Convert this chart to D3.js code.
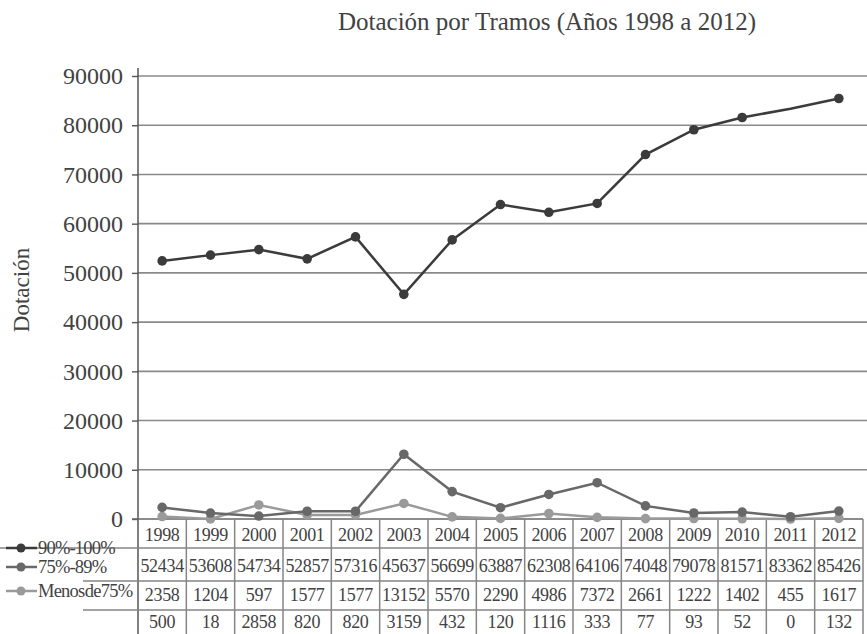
<!DOCTYPE html>
<html><head><meta charset="utf-8">
<script src="https://cdn.jsdelivr.net/npm/d3@7"></script>
<style>body{margin:0;background:#fff}</style>
</head><body>
<svg id="c" width="867" height="634"></svg>
<script>
const years = ["1998","1999","2000","2001","2002","2003","2004","2005","2006","2007","2008","2009","2010","2011","2012"];
const seriesNames = ["90%-100%","75%-89%","Menos de 75%"];
const s90 = [52434,53608,54734,52857,57316,45637,56699,63887,62308,64106,74048,79078,81571,83362,85426];
const s75 = [2358,1204,597,1577,1577,13152,5570,2290,4986,7372,2661,1222,1402,455,1617];
const sMenos = [500,18,2858,820,820,3159,432,120,1116,333,77,93,52,0,132];
const yTicks = [0,10000,20000,30000,40000,50000,60000,70000,80000,90000];
const noMarker90 = ["2011"];
const titleText = "Dotación por Tramos (Años 1998 a 2012)";
const yLabel = "Dotación";

const seriesVals = [s90, s75, sMenos];
const colors = ["#3b3b3b", "#686868", "#9a9a9a"];
const font = "'Liberation Serif', 'Times New Roman', serif";
const textCol = "#424242";

const svg = d3.select("#c");
const x = d3.scaleBand().domain(years).range([138, 863]);
const y = d3.scaleLinear().domain([0, 90000]).range([519, 76]);

// title
svg.append("text").attr("x", 547).attr("y", 30).attr("text-anchor", "middle")
  .attr("font-family", font).attr("font-size", 25).attr("fill", textCol).text(titleText);

// y label
svg.append("text").attr("transform", "translate(29,290) rotate(-90)").attr("text-anchor", "middle")
  .attr("font-family", font).attr("font-size", 23).attr("fill", textCol).text(yLabel);

// gridlines
svg.append("g").selectAll("line").data(yTicks.filter(d => d > 0)).join("line")
  .attr("x1", 138).attr("x2", 867).attr("y1", d => y(d)).attr("y2", d => y(d))
  .attr("stroke", "#8a8a8a").attr("stroke-width", 1.6);

// y axis
const yAxis = d3.axisLeft(y).tickValues(yTicks).tickSize(6).tickPadding(9).tickFormat(d3.format("d"));
const ga = svg.append("g").attr("transform", "translate(138,0)").call(yAxis);
ga.select(".domain").remove();
ga.selectAll(".tick line").attr("stroke", "#555").attr("stroke-width", 1.4);
ga.selectAll(".tick text").attr("font-family", font).attr("font-size", 24).attr("fill", textCol);
svg.append("line").attr("x1", 138).attr("x2", 138).attr("y1", 68).attr("y2", 634)
  .attr("stroke", "#555").attr("stroke-width", 1.5);
// category axis line
svg.append("line").attr("x1", 132).attr("x2", 863).attr("y1", y(0)).attr("y2", y(0))
  .attr("stroke", "#666").attr("stroke-width", 1.5);

// table lines
const tb = svg.append("g").attr("stroke", "#858585").attr("stroke-width", 1.5);
const colEdges = years.map(d => x(d)).concat([x(years[years.length - 1]) + x.bandwidth()]);
tb.selectAll("line.v").data(colEdges.slice(1)).join("line")
  .attr("x1", d => d).attr("x2", d => d).attr("y1", y(0)).attr("y2", 634);
tb.append("line").attr("x1", 0).attr("x2", 863).attr("y1", 548).attr("y2", 548);
tb.append("line").attr("x1", 83).attr("x2", 863).attr("y1", 581).attr("y2", 581);
tb.append("line").attr("x1", 83).attr("x2", 863).attr("y1", 610).attr("y2", 610);

// table text
const rowY = [535, 566, 595, 622];
const rows = [years].concat(seriesVals);
rows.forEach((row, ri) => {
  svg.append("g").selectAll("text").data(row).join("text")
    .attr("x", (d, i) => x(years[i]) + x.bandwidth() / 2)
    .attr("y", rowY[ri]).attr("dy", "0.35em").attr("text-anchor", "middle")
    .attr("font-family", font).attr("font-size", 18).attr("letter-spacing", -0.3)
    .attr("fill", textCol).text(d => d);
});

// legend
const legY = [548, 567, 591];
seriesNames.forEach((name, i) => {
  const g = svg.append("g");
  g.append("line").attr("x1", 6).attr("x2", 37).attr("y1", legY[i]).attr("y2", legY[i])
    .attr("stroke", colors[i]).attr("stroke-width", 2.5);
  g.append("circle").attr("cx", 21).attr("cy", legY[i]).attr("r", 4.5).attr("fill", colors[i]);
  g.append("text").attr("x", 38).attr("y", legY[i]).attr("dy", "0.35em")
    .attr("font-family", font).attr("font-size", 18.5).attr("letter-spacing", -0.8)
    .attr("word-spacing", -3.5)
    .attr("fill", textCol).text(name);
});

// lines
const line = d3.line().x((d, i) => x(years[i]) + x.bandwidth() / 2).y(d => y(d));
[2, 1, 0].forEach(si => {
  const vals = seriesVals[si];
  svg.append("path").datum(vals).attr("d", line).attr("fill", "none")
    .attr("stroke", colors[si]).attr("stroke-width", 2.5);
  svg.append("g").selectAll("circle")
    .data(vals.map((v, i) => ({ v, yr: years[i] })).filter(d => !(si === 0 && noMarker90.includes(d.yr))))
    .join("circle")
    .attr("cx", d => x(d.yr) + x.bandwidth() / 2).attr("cy", d => y(d.v))
    .attr("r", 4.8).attr("fill", colors[si]);
});
</script>
</body></html>
